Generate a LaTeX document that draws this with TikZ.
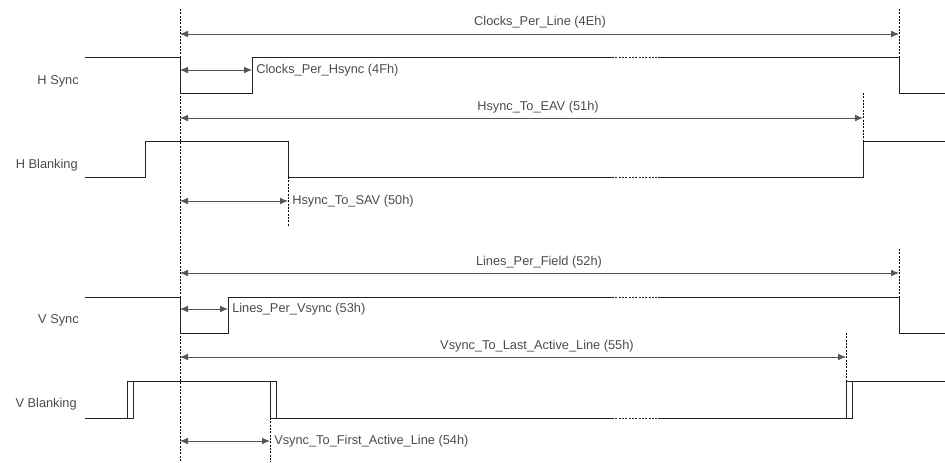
\documentclass[tikz,border=0pt]{standalone}
\usepackage{fontspec}
\setmainfont{Liberation Sans}
\usetikzlibrary{arrows.meta,positioning}
\definecolor{sigcol}{RGB}{35,35,35}
\definecolor{dimcol}{RGB}{85,85,85}
\definecolor{txtcol}{RGB}{75,75,75}

\begin{document}
\begin{tikzpicture}[x=0.75pt,y=-0.75pt,>={Latex[length=6pt,width=5pt]},
  font=\fontsize{9.6}{11}\selectfont,
  sig/.style={sigcol,line width=0.7pt},
  gap/.style={sigcol,line width=0.6pt,dash pattern=on 1.5pt off 1pt},
  marker/.style={black,line width=0.5pt,dash pattern=on 1.5pt off 1pt},
  dim/.style={dimcol,line width=0.6pt,<->},
  lbl/.style={txtcol,inner sep=1pt},
  sname/.style={txtcol,anchor=east,inner sep=0pt}]
  \useasboundingbox (0,0) rectangle (945,462);

  % reference instant
  \coordinate (ref top) at (180,9);
  \coordinate (ref bot) at (180,462);
  \draw[marker] (ref top) -- (ref bot);

  % ---- H Sync
  \node[sname] (hsync) at (79,81) {H Sync};
  \draw[sig] (85,57) -- (180,57) -- (180,93) -- (252,93) -- (252,57) -- (612,57);
  \draw[gap] (612,57) -- (658,57);
  \draw[sig] (658,57) -- (899,57) -- (899,93) -- (945,93);
  \coordinate (line end top) at (899,9);
  \coordinate (line end) at (899,57);
  \draw[marker] (line end top) -- (line end);

  \coordinate (cpl a) at (180,34);
  \coordinate (cpl b) at (899,34);
  \draw[dim] (cpl a) -- (cpl b);
  \node[lbl] (cpl) at (540,22) {Clocks\_Per\_Line (4Eh)};

  \coordinate (cph a) at (180,70);
  \coordinate (cph b) at (252,70);
  \draw[dim] (cph a) -- (cph b);
  \node[lbl,right=2pt of cph b] (cph) {Clocks\_Per\_Hsync (4Fh)};

  % ---- H Blanking
  \node[sname] (hblank) at (78,165) {H Blanking};
  \draw[sig] (85,177) -- (145,177) -- (145,141) -- (288,141) -- (288,177) -- (612,177);
  \draw[gap] (612,177) -- (658,177);
  \draw[sig] (658,177) -- (863,177) -- (863,141) -- (945,141);

  \coordinate (eav top) at (863,93);
  \coordinate (eav) at (863,141);
  \draw[marker] (eav top) -- (eav);
  \coordinate (eav a) at (180,118);
  \coordinate (eav b) at (863,118);
  \draw[dim] (eav a) -- (eav b);
  \node[lbl] (hte) at (538,107) {Hsync\_To\_EAV (51h)};

  \coordinate (sav) at (288,177);
  \coordinate (sav bot) at (288,226);
  \draw[marker] (sav) -- (sav bot);
  \coordinate (sav a) at (180,201);
  \coordinate (sav b) at (288,201);
  \draw[dim] (sav a) -- (sav b);
  \node[lbl,right=2pt of sav b] (hts) {Hsync\_To\_SAV (50h)};

  % ---- V Sync
  \node[sname] (vsync) at (79,320) {V Sync};
  \draw[sig] (85,297) -- (180,297) -- (180,333) -- (228,333) -- (228,297) -- (612,297);
  \draw[gap] (612,297) -- (658,297);
  \draw[sig] (658,297) -- (899,297) -- (899,333) -- (945,333);
  \coordinate (field end top) at (899,249);
  \coordinate (field end) at (899,297);
  \draw[marker] (field end top) -- (field end);

  \coordinate (lpf a) at (180,273);
  \coordinate (lpf b) at (899,273);
  \draw[dim] (lpf a) -- (lpf b);
  \node[lbl] (lpf) at (539,262) {Lines\_Per\_Field (52h)};

  \coordinate (lpv a) at (180,309);
  \coordinate (lpv b) at (228,309);
  \draw[dim] (lpv a) -- (lpv b);
  \node[lbl,right=2pt of lpv b] (lpv) {Lines\_Per\_Vsync (53h)};

  % ---- V Blanking (two overlaid traces)
  \node[sname] (vblank) at (77,404) {V Blanking};
  \foreach \d in {0,6} {
    \draw[sig] (85,418) -- (127+\d,418) -- (127+\d,381) -- (270+\d,381) -- (270+\d,418) -- (612,418);
    \draw[sig] (658,418) -- (846+\d,418) -- (846+\d,381) -- (945,381);
  }
  \draw[gap] (612,418) -- (658,418);

  \coordinate (last top) at (846,333);
  \coordinate (last) at (846,381);
  \draw[marker] (last top) -- (last);
  \coordinate (vla a) at (180,357);
  \coordinate (vla b) at (846,357);
  \draw[dim] (vla a) -- (vla b);
  \node[lbl] (vla) at (537,346) {Vsync\_To\_Last\_Active\_Line (55h)};

  \coordinate (first) at (270,418);
  \coordinate (first bot) at (270,462);
  \draw[marker] (first) -- (first bot);
  \coordinate (vfa a) at (180,441);
  \coordinate (vfa b) at (270,441);
  \draw[dim] (vfa a) -- (vfa b);
  \node[lbl,right=2pt of vfa b] (vfa) {Vsync\_To\_First\_Active\_Line (54h)};
\end{tikzpicture}
\end{document}
